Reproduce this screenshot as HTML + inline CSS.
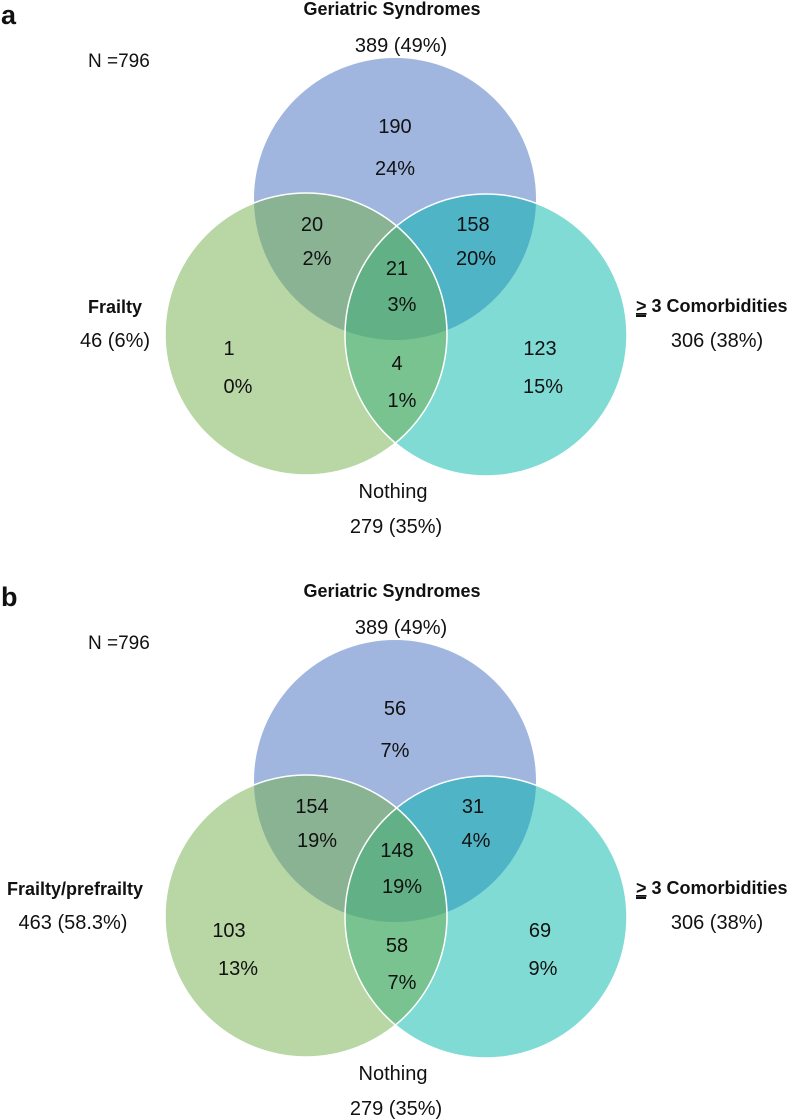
<!DOCTYPE html>
<html><head><meta charset="utf-8">
<style>
html,body{margin:0;padding:0;background:#fff;}
svg{display:block;font-family:"Liberation Sans",sans-serif;}
</style></head>
<body>
<svg id="chart" width="788" height="1119" viewBox="0 0 788 1119"></svg>
<script>
// Data
const panelIds = ['a', 'b'];
const setNames = ['Geriatric Syndromes', ' 3 Comorbidities'];
const frailtyNames = ['Frailty', 'Frailty/prefrailty'];
const frailtyTotals = ['46 (6%)', '463 (58.3%)'];
const geriTotal = '389 (49%)';
const comorbTotal = '306 (38%)';
const nothingTotal = '279 (35%)';
const nLabel = 'N =796';
// region order: G only, G∩F, G∩C, all, F only, F∩C, C only
const regionCountsA = ['190', '20', '158', '21', '1', '4', '123'];
const regionPctA = ['24%', '2%', '20%', '3%', '0%', '1%', '15%'];
const regionCountsB = ['56', '154', '31', '148', '103', '58', '69'];
const regionPctB = ['7%', '19%', '4%', '19%', '13%', '7%', '9%'];

const NS = 'http://www.w3.org/2000/svg';
const svg = document.getElementById('chart');
function mk(tag, attrs, parent) {
  const e = document.createElementNS(NS, tag);
  for (const k in attrs) e.setAttribute(k, attrs[k]);
  (parent || svg).appendChild(e);
  return e;
}
function txt(s, x, y, size, weight, anchor, parent) {
  const t = mk('text', {x: x, y: y, 'font-size': size, 'font-weight': weight || 'normal', 'text-anchor': anchor || 'middle', fill: '#111'}, parent);
  t.textContent = s;
  return t;
}
const R = 141;
const labelPos = [[395,133,395,175],[312,231,317,265],[473,231,476,265],[397,275,402,311],[229,355,238,393],[397,370,402,407],[540,355,543,393]];

panelIds.forEach((pid, p) => {
  const oy = p * 582;
  const g = mk('g', {transform: 'translate(0,' + oy + ')'});
  
  
  const B = [395, 199], G = [306, 334], T = [486, 335];
  const defs = mk('defs', {}, g);
  const mkClip = (id, c) => { const cp = mk('clipPath', {id: id + p}, defs); mk('circle', {cx: c[0], cy: c[1], r: R}, cp); };
  mkClip('cb', B); mkClip('cg', G); mkClip('ct', T);
  const circ = (c, fill, name, clip) => {
    const e = mk('circle', {cx: c[0], cy: c[1], r: R, fill: fill}, clip ? mk('g', {'clip-path': 'url(#' + clip + p + ')'}, g) : g);
    
    
    return e;
  };
  circ(G, '#b8d7a4', 'frailty-circle');
  circ(T, '#80dbd4', 'comorbidities-circle');
  circ(B, '#a0b6df', 'geriatric-circle');
  circ(G, '#8ab394', 'geriatric-frailty-overlap', 'cb');
  circ(T, '#4fb5c6', 'geriatric-comorbidities-overlap', 'cb');
  circ(G, '#78c38f', 'frailty-comorbidities-overlap', 'ct');
  const gg = mk('g', {'clip-path': 'url(#cb' + p + ')'}, g);
  const c3 = mk('circle', {cx: G[0], cy: G[1], r: R, fill: '#62b085', 'clip-path': 'url(#ct' + p + ')'}, gg);
  
  
  mk('circle', {cx: G[0], cy: G[1], r: R, fill: 'none', stroke: '#fff', 'stroke-width': 1.5}, g);
  mk('circle', {cx: T[0], cy: T[1], r: R, fill: 'none', stroke: '#fff', 'stroke-width': 1.5}, g);

  const counts = p === 0 ? regionCountsA : regionCountsB;
  const pcts = p === 0 ? regionPctA : regionPctB;
  counts.forEach((c, i) => {
    const l = labelPos[i];
    const t1 = txt(c, l[0], l[1], 20, 'normal', 'middle', g);
    
    
    const t2 = txt(pcts[i], l[2], l[3], 20, 'normal', 'middle', g);
    
    
  });

  const pl = txt(pid, 1, 24, 27, 'bold', 'start', g);
  
  
  const n = txt(nLabel, 88, 67, 19, 'normal', 'start', g);
  
  
  const gt = txt(setNames[0], 392, 15, 18, 'bold', 'middle', g);
  
  
  const gv = txt(geriTotal, 401, 52, 20, 'normal', 'middle', g);
  
  
  const ft = txt(frailtyNames[p], p === 0 ? 115 : 75, 313, 18, 'bold', 'middle', g);
  
  
  const fv = txt(frailtyTotals[p], p === 0 ? 115 : 73, 347, 20, 'normal', 'middle', g);
  
  
  const ct = mk('text', {x: 636, y: 312, 'font-size': 18, 'font-weight': 'bold', 'text-anchor': 'start', fill: '#111'}, g);
  
  
  const ge = mk('tspan', {'text-decoration': 'underline'}, ct);
  ge.textContent = '>';
  const rest = mk('tspan', {}, ct);
  rest.textContent = setNames[1];
  mk('rect', {x: 636, y: 315, width: 10, height: 2, fill: '#111'}, g);
  const cv = txt(comorbTotal, 717, 347, 20, 'normal', 'middle', g);
  
  
  const nt = txt('Nothing', 393, 498, 20, 'normal', 'middle', g);
  
  
  const nv = txt(nothingTotal, 396, 533, 20, 'normal', 'middle', g);
  
  
});
</script>
</body></html>
